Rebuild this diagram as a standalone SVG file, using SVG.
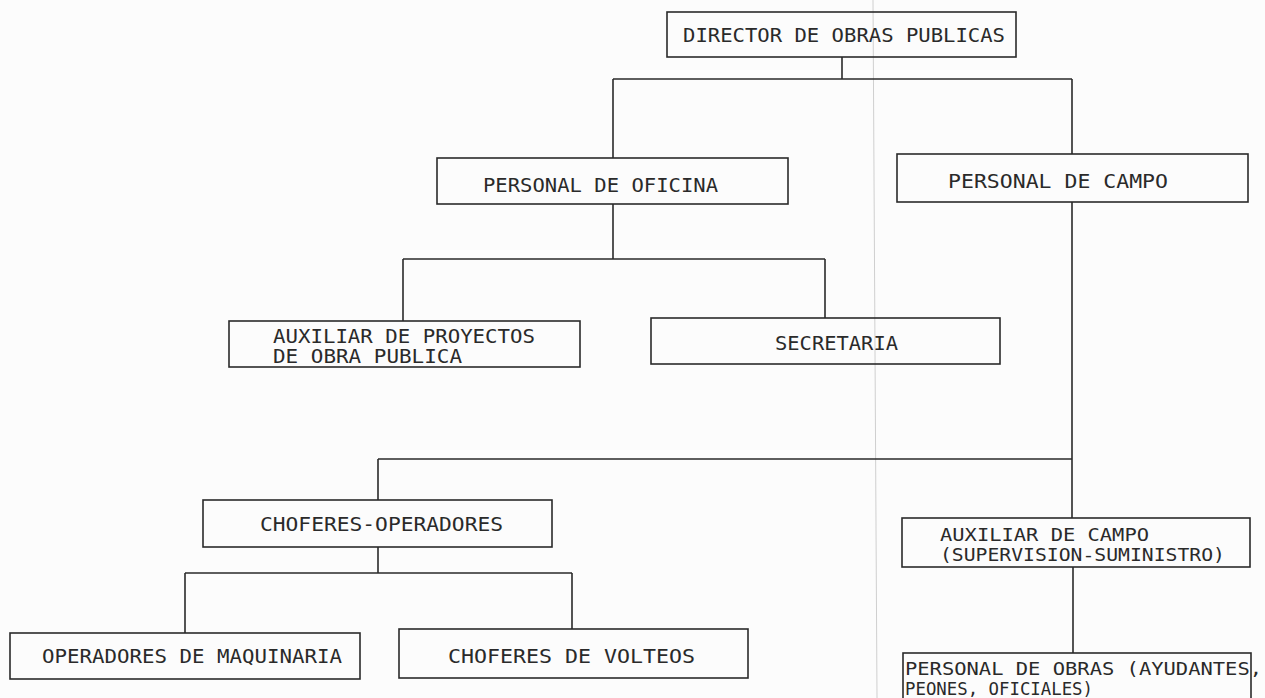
<svg xmlns="http://www.w3.org/2000/svg" width="1265" height="698" viewBox="0 0 1265 698">
<style>
.box{fill:none;stroke:#2a2a2a;stroke-width:1.6}
.ln{fill:none;stroke:#2a2a2a;stroke-width:1.6}
.t{font-family:"DejaVu Sans Mono","Liberation Mono",monospace;font-size:19px;fill:#2a2a2a}
.s{font-size:17px}
</style>
<rect width="1265" height="698" fill="#fcfcfc"/>
<line x1="873" y1="0" x2="877" y2="698" stroke="#cfcfcf" stroke-width="1"/>
<g id="connectors">
<path class="ln" d="M842 57V79M613 79H1072M613 79V158M1072 79V154"/>
<path class="ln" d="M613 204V259M403 259H825M403 259V321M825 259V318"/>
<path class="ln" d="M1072 202V518M378 459H1072M378 459V500"/>
<path class="ln" d="M378 547V573M185 573H572M185 573V633M572 573V629"/>
<path class="ln" d="M1073 567V653"/>
</g>
<g id="director"><rect class="box" x="667" y="12" width="349" height="45"/><text class="t" x="683" y="42" textLength="322" lengthAdjust="spacingAndGlyphs">DIRECTOR DE OBRAS PUBLICAS</text></g>
<g id="oficina"><rect class="box" x="437" y="158" width="351" height="46"/><text class="t" x="483" y="192" textLength="235" lengthAdjust="spacingAndGlyphs">PERSONAL DE OFICINA</text></g>
<g id="campo"><rect class="box" x="897" y="154" width="351" height="48"/><text class="t" x="948" y="188" textLength="220" lengthAdjust="spacingAndGlyphs">PERSONAL DE CAMPO</text></g>
<g id="auxproy"><rect class="box" x="229" y="321" width="351" height="46"/><text class="t" x="273" y="343" textLength="262" lengthAdjust="spacingAndGlyphs">AUXILIAR DE PROYECTOS</text><text class="t" x="273" y="363" textLength="189" lengthAdjust="spacingAndGlyphs">DE OBRA PUBLICA</text></g>
<g id="secretaria"><rect class="box" x="651" y="318" width="349" height="46"/><text class="t" x="775" y="350" textLength="123" lengthAdjust="spacingAndGlyphs">SECRETARIA</text></g>
<g id="choferesop"><rect class="box" x="203" y="500" width="349" height="47"/><text class="t" x="260" y="531" textLength="243" lengthAdjust="spacingAndGlyphs">CHOFERES-OPERADORES</text></g>
<g id="operadores"><rect class="box" x="10" y="633" width="350" height="46"/><text class="t" x="42" y="663" textLength="300" lengthAdjust="spacingAndGlyphs">OPERADORES DE MAQUINARIA</text></g>
<g id="volteos"><rect class="box" x="399" y="629" width="349" height="49"/><text class="t" x="448" y="663" textLength="247" lengthAdjust="spacingAndGlyphs">CHOFERES DE VOLTEOS</text></g>
<g id="auxcampo"><rect class="box" x="902" y="518" width="348" height="49"/><text class="t s" x="940" y="541" textLength="209" lengthAdjust="spacingAndGlyphs">AUXILIAR DE CAMPO</text><text class="t s" x="940" y="561" textLength="285" lengthAdjust="spacingAndGlyphs">(SUPERVISION-SUMINISTRO)</text></g>
<g id="obras"><rect class="box" x="903" y="653" width="348" height="50"/><text class="t s" x="905" y="675" textLength="357" lengthAdjust="spacingAndGlyphs">PERSONAL DE OBRAS (AYUDANTES,</text><text class="t s" x="905" y="695" textLength="188" lengthAdjust="spacingAndGlyphs">PEONES, OFICIALES)</text></g>
</svg>
